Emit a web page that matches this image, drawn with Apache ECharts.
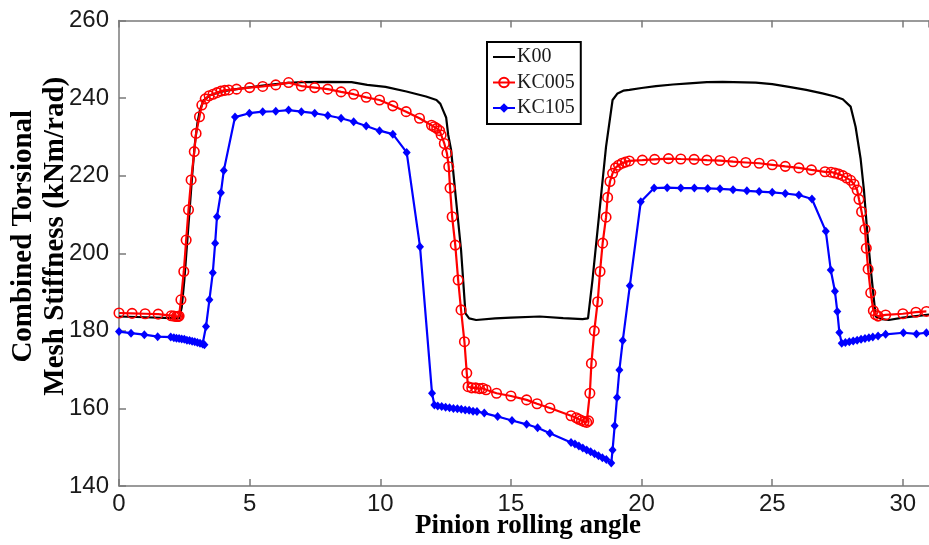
<!DOCTYPE html>
<html>
<head>
<meta charset="utf-8">
<script src="https://cdn.jsdelivr.net/npm/echarts@6/dist/echarts.min.js"></script>
<style>
html,body{margin:0;padding:0;background:#fff;}
#chart{width:929px;height:545px;}
</style>
</head>
<body>
<div id="chart"></div>
<script>
// ---- data (x = pinion rolling angle, y = stiffness kNm/rad) ----
const seriesNames = ['K00', 'KC005', 'KC105'];
const xTicks = [0, 5, 10, 15, 20, 25, 30];
const yTicks = [140, 160, 180, 200, 220, 240, 260];

const k00Data = [
  [0,183.7],[1,183.5],[2,183.3],[2.3,183.2],[2.4,186],[2.5,193],[2.6,202],[2.7,211],[2.8,220],[2.9,228],
  [3.0,233.5],[3.1,237],[3.25,239.5],[3.5,240.8],[4.0,241.8],[4.5,242.3],[5.0,242.8],[5.5,243.2],[6.0,243.6],
  [6.5,243.9],[7.0,244.1],[8.0,244.2],[8.9,244.1],[9.5,243.4],[10.2,242.9],[11.0,241.7],[11.75,240.4],
  [12.15,239.5],[12.3,238.5],[12.4,236.9],[12.52,235],[12.6,230.5],[12.71,226.6],[12.9,213.7],[13.09,200.9],
  [13.26,184.5],[13.4,183.2],[13.67,182.8],[14.4,183.2],[15,183.4],[16.1,183.7],[17,183.3],[17.74,183.0],
  [17.95,183.2],[18.12,193.1],[18.38,210.3],[18.64,227.5],[18.89,239.5],[19.08,241.2],[19.3,241.9],
  [19.53,242.1],[20.0,242.6],[20.55,243.1],[21.2,243.5],[21.82,243.8],[22.5,244.1],[23.1,244.2],
  [24.37,244.0],[25,243.6],[25.64,242.9],[26.3,242.1],[26.92,241.2],[27.4,240.4],[27.7,239.7],[28.0,237.8],
  [28.19,232.6],[28.38,224.5],[28.51,216.3],[28.64,205.2],[28.8,194.0],[28.96,183.7],[29.2,183.0],
  [29.46,182.8],[30.0,183.4],[30.5,183.8],[31,184.2]
];

const kc005Data = [
  [0,184.6],[0.5,184.5],[1.0,184.4],[1.5,184.3],[2.0,183.9],[2.1,183.8],[2.2,183.7],[2.25,183.7],[2.3,183.8],
  [2.37,188],[2.48,195.3],[2.57,203.4],[2.66,211.2],[2.76,218.9],[2.88,226.2],[2.95,230.9],[3.08,235.2],
  [3.17,238.2],[3.3,239.8],[3.45,240.6],[3.6,241.0],[3.75,241.4],[3.9,241.8],[4.05,242.0],[4.2,242.1],
  [4.5,242.3],[5.0,242.7],[5.5,243.0],[6.0,243.4],[6.49,244.0],[6.98,243.1],[7.49,242.7],[7.99,242.3],
  [8.5,241.6],[8.98,241.0],[9.46,240.2],[9.97,239.5],[10.48,238.0],[10.99,236.5],[11.5,234.8],[11.96,233.0],
  [12.06,232.6],[12.16,232.2],[12.27,231.6],[12.33,230.5],[12.45,228.3],[12.55,225.8],[12.62,222.3],
  [12.67,216.8],[12.75,209.4],[12.87,202.1],[12.98,193.1],[13.09,185.4],[13.22,177.2],[13.31,169.1],
  [13.36,165.6],[13.5,165.3],[13.65,165.3],[13.8,165.1],[13.92,165.2],[14.05,164.8],[14.45,163.9],
  [15.0,163.2],[15.6,162.2],[16.0,161.2],[16.49,160.1],[17.3,158.1],[17.5,157.6],[17.6,157.2],[17.7,156.9],
  [17.8,156.6],[17.9,156.4],[17.97,156.8],[18.02,163.9],[18.08,171.6],[18.19,180.0],[18.32,187.5],
  [18.41,195.3],[18.51,202.6],[18.64,209.3],[18.7,214.4],[18.79,218.5],[18.89,220.6],[19.0,222.0],
  [19.12,222.7],[19.25,223.2],[19.38,223.5],[19.53,223.8],[20.03,224.0],[20.5,224.2],[21.03,224.4],
  [21.5,224.3],[22.01,224.2],[22.5,224.0],[23.0,223.9],[23.5,223.6],[23.99,223.4],[24.5,223.2],[25.0,222.8],
  [25.5,222.4],[26.02,222.0],[26.5,221.5],[27.02,221.0],[27.25,220.9],[27.4,220.7],[27.55,220.4],
  [27.7,220.0],[27.85,219.4],[28.0,218.8],[28.13,217.8],[28.25,216.3],[28.32,213.9],[28.42,210.7],
  [28.55,206.2],[28.6,201.3],[28.67,195.9],[28.77,189.8],[28.87,185.2],[28.95,184.2],[29.05,183.8],
  [29.34,184.1],[30.0,184.4],[30.5,184.8],[30.9,185.0]
];

const kc105Data = [
  [0,179.8],[0.46,179.4],[0.97,179.0],[1.48,178.5],[1.98,178.4],[2.1,178.2],[2.2,178.1],[2.3,178.0],
  [2.4,177.9],[2.5,177.8],[2.6,177.6],[2.7,177.5],[2.8,177.3],[2.9,177.2],[3.0,177.0],[3.1,176.8],
  [3.2,176.6],[3.27,176.4],[3.33,181.1],[3.46,188.0],[3.59,195.0],[3.68,202.6],[3.75,209.4],[3.9,215.6],
  [4.01,221.3],[4.44,235.1],[4.99,236.1],[5.5,236.5],[6.0,236.6],[6.49,236.9],[6.98,236.5],[7.49,236.1],
  [7.99,235.5],[8.5,234.8],[8.98,233.9],[9.46,232.8],[9.97,231.6],[10.48,230.7],[11.01,226.0],[11.52,201.7],
  [11.98,163.9],[12.07,160.9],[12.2,160.6],[12.35,160.5],[12.5,160.3],[12.65,160.2],[12.8,160.0],
  [12.95,159.9],[13.1,159.8],[13.25,159.6],[13.4,159.5],[13.55,159.3],[13.7,159.2],[13.98,158.8],
  [14.49,157.9],[15.04,156.9],[15.6,155.9],[16.02,155.0],[16.49,153.6],[17.3,151.2],[17.45,150.8],
  [17.6,150.3],[17.75,149.8],[17.9,149.3],[18.05,148.8],[18.2,148.3],[18.35,147.8],[18.5,147.3],
  [18.65,146.8],[18.84,145.9],[18.89,149.3],[18.97,155.5],[19.06,162.8],[19.15,169.9],[19.28,177.5],
  [19.55,191.6],[19.97,213.3],[20.48,216.8],[20.98,216.9],[21.5,216.8],[22.02,216.8],[22.53,216.7],
  [23.0,216.6],[23.5,216.4],[24.03,216.1],[24.5,215.9],[25.0,215.7],[25.5,215.4],[26.02,215.0],
  [26.52,214.0],[27.05,205.7],[27.24,195.7],[27.4,190.2],[27.49,185.0],[27.57,179.6],[27.66,176.8],
  [27.8,177.0],[27.95,177.2],[28.1,177.4],[28.25,177.6],[28.4,177.8],[28.55,178.0],[28.7,178.2],
  [28.85,178.4],[29.05,178.7],[29.34,179.1],[30.02,179.5],[30.52,179.2],[30.9,179.5]
];

// ---- chart ----
const chart = echarts.init(document.getElementById('chart'), null, {renderer: 'canvas'});
const axisGray = '#7a7a7a';
const tickFont = {fontFamily: '"Liberation Sans", Arial, sans-serif', fontSize: 24, color: '#1a1a1a'};
const nameFont = {fontFamily: '"Liberation Serif", "Times New Roman", serif', fontWeight: 'bold', fontSize: 29, color: '#000'};

const option = {
  animation: false,
  backgroundColor: '#fff',
  grid: {left: 119, top: 20.5, right: 0, bottom: 59, containLabel: false, outerBoundsMode: 'none'},
  legend: {
    orient: 'vertical',
    left: 487, top: 42,
    padding: [4, 6, 5, 5],
    itemGap: 3.5,
    itemWidth: 22,
    itemHeight: 12,
    borderColor: '#000',
    borderWidth: 2,
    backgroundColor: '#fff',
    textStyle: {fontFamily: '"Liberation Serif", "Times New Roman", serif', fontSize: 20, color: '#1a1a1a', lineHeight: 22, padding: [0, 0, 0, -3]},
    data: [
      {name: seriesNames[0], itemStyle: {color: 'rgba(0,0,0,0)', borderWidth: 0, opacity: 0}},
      {name: seriesNames[1]},
      {name: seriesNames[2]}
    ]
  },
  xAxis: [
    {
      type: 'value', position: 'bottom', min: xTicks[0], max: 31, interval: 5,
      name: 'Pinion rolling angle', nameLocation: 'middle', nameGap: 27, nameMoveOverlap: false,
      nameTextStyle: Object.assign({}, nameFont, {fontSize: 27, padding: [0, 0, 0, 8]}),
      axisLine: {show: true, onZero: false, lineStyle: {color: axisGray, width: 1.5}},
      axisTick: {show: true, inside: true, length: 7, lineStyle: {color: axisGray, width: 1.5}},
      axisLabel: Object.assign({margin: 6, showMaxLabel: false,
        formatter: v => (xTicks.indexOf(v) >= 0 ? String(v) : '')}, tickFont),
      splitLine: {show: false}
    },
    {
      type: 'value', position: 'top', min: xTicks[0], max: 31, interval: 5,
      axisLine: {show: true, onZero: false, lineStyle: {color: axisGray, width: 1.5}},
      axisTick: {show: true, inside: true, length: 7, lineStyle: {color: axisGray, width: 1.5}},
      axisLabel: {show: false},
      splitLine: {show: false}
    }
  ],
  yAxis: {
    type: 'value', min: yTicks[0], max: yTicks[yTicks.length - 1], interval: 20,
    name: 'Combined Torsional\nMesh Stiffness (kNm/rad)', nameLocation: 'middle', nameGap: 47, nameMoveOverlap: false,
    nameTextStyle: Object.assign({lineHeight: 32, padding: [0, 0, 0, 34]}, nameFont),
    axisLine: {show: true, onZero: false, lineStyle: {color: axisGray, width: 1.5}},
    axisTick: {show: true, inside: true, length: 7, lineStyle: {color: axisGray, width: 1.5}},
    axisLabel: Object.assign({margin: 10}, tickFont),
    splitLine: {show: false}
  },
  series: [
    {
      name: seriesNames[0], type: 'line', data: k00Data, xAxisIndex: 0,
      showSymbol: false, symbol: 'none', z: 2,
      lineStyle: {color: '#000', width: 2.2}, itemStyle: {color: '#000'}
    },
    {
      name: seriesNames[1], type: 'line', data: kc005Data, xAxisIndex: 0,
      symbol: 'circle', symbolSize: 9.5, z: 3,
      lineStyle: {color: '#ff0000', width: 2.2},
      itemStyle: {color: 'rgba(255,255,255,0)', borderColor: '#ff0000', borderWidth: 1.6}
    },
    {
      name: seriesNames[2], type: 'line', data: kc105Data, xAxisIndex: 0,
      symbol: 'diamond', symbolSize: [8, 9], z: 4,
      lineStyle: {color: '#0000ff', width: 2.2},
      itemStyle: {color: '#0000ff'}
    }
  ]
};
chart.setOption(option);
</script>
</body>
</html>
